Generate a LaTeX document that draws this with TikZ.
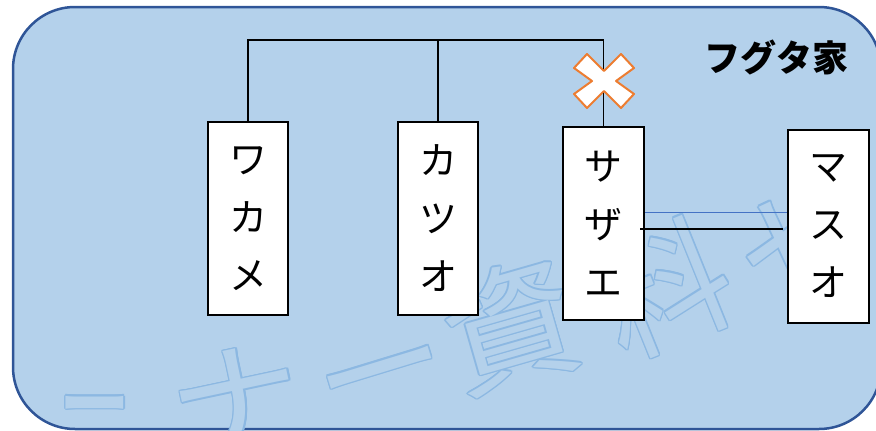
\documentclass[tikz,border=0pt]{standalone}
\usepackage{fontspec}
\setmainfont{Noto Sans CJK JP}
\definecolor{bgfill}{HTML}{B4D1EB}
\definecolor{bgline}{HTML}{2F5597}
\definecolor{wmline}{HTML}{8CB8E2}
\definecolor{linkblue}{HTML}{4472C4}
\definecolor{crossorange}{HTML}{ED7D31}
\tikzset{
  person/.style={draw=black, line width=2.5pt, fill=white, minimum width=80pt,
    minimum height=193pt, inner sep=0pt, align=center,
    font=\fontsize{38}{58}\selectfont},
  link/.style={draw=black, line width=1.1pt},
  wmchar/.style={inner sep=0pt, text height=116pt, text depth=16pt,
    font=\fontsize{132}{132}\selectfont},
}
\begin{document}
\begin{tikzpicture}[x=1pt,y=-1pt]
\useasboundingbox (0,0) rectangle (876,431);
\clip (0,0) rectangle (876,431);
% background panel
\draw[bgline, fill=bgfill, line width=2.5pt, rounded corners=62pt] (13,7) rectangle (881,429);
% watermark (outlined glyphs)
\foreach \ch/\px/\py/\rot/\sx [count=\i] in {ー/95/403/0/0.55, ナ/237/402/12/1, ー/380/368/17/1, 資/510/326/16/1, 料/664/288/22/1, セ/805/243/25/1}{
  \foreach \a in {0,30,...,330}{
    \node[wmchar, text=wmline, rotate=\rot, xscale=\sx] (wmo\i-\a) at ([shift={(\a:1.4pt)}]\px,\py) {\ch};
  }
  \node[wmchar, text=bgfill, rotate=\rot, xscale=\sx] (wm\i) at (\px,\py) {\ch};
}
% persons
\node[person] (wakame) at (248,218.5) {ワ\\カ\\メ};
\node[person] (katsuo) at (438,218.5) {カ\\ツ\\オ};
\node[person, minimum width=81pt] (sazae) at (603.5,223.5) {サ\\ザ\\エ};
\node[person, minimum width=81pt] (masuo) at (828.5,226.5) {マ\\ス\\オ};
% sibling connector
\coordinate (bar) at (0,40);
\draw[link] (wakame.north) -- (wakame.north |- bar) -- (sazae.north |- bar) -- (sazae.north);
\draw[link] (katsuo.north) -- (katsuo.north |- bar);
% marriage lines
\coordinate (mb) at (0,212);
\coordinate (mk) at (0,229);
\draw[linkblue, line width=1pt] (sazae.east |- mb) -- (masuo.west |- mb);
\draw[link] ([xshift=-5pt]sazae.east |- mk) -- ([xshift=-4pt]masuo.west |- mk);
% cross mark
\begin{scope}[shift={(604,81)}]
\draw[crossorange, fill=white, line width=2pt, line join=round]
  (-30,-13) -- (-17,-27) -- (0,-10) -- (17,-27) -- (30,-13) -- (12,0) --
  (30,13) -- (17,27) -- (0,10) -- (-17,27) -- (-30,13) -- (-12,0) -- cycle;
\end{scope}
% title
\node[inner sep=0pt, font=\fontsize{36}{36}\selectfont\bfseries] (title) at (776,57) {フグタ家};
\end{tikzpicture}
\end{document}
